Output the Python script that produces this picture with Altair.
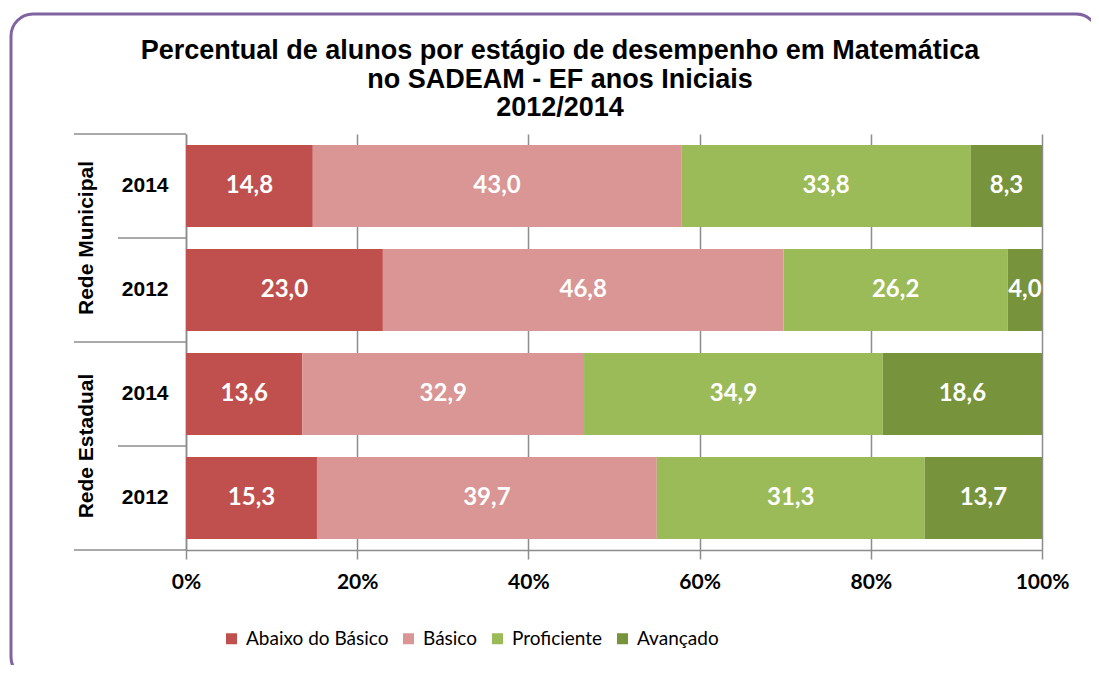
import altair as alt
import pandas as pd

title_lines = ["Percentual de alunos por estágio de desempenho em Matemática",
               "no SADEAM - EF anos Iniciais", "2012/2014"]
networks = ["Rede Municipal", "Rede Municipal", "Rede Estadual", "Rede Estadual"]
years = ["2014", "2012", "2014", "2012"]
levels = ["Abaixo do Básico", "Básico", "Proficiente", "Avançado"]
abaixo = [14.8, 23.0, 13.6, 15.3]
basico = [43.0, 46.8, 32.9, 39.7]
proficiente = [33.8, 26.2, 34.9, 31.3]
avancado = [8.3, 4.0, 18.6, 13.7]
colors = ["#C0504D", "#D99694", "#9BBB59", "#77933C"]
x_ticks = [0, 0.2, 0.4, 0.6, 0.8, 1.0]

keys = [n + "|" + y for n, y in zip(networks, years)]
series = [abaixo, basico, proficiente, avancado]
rows = []
for i, k in enumerate(keys):
    for j, lvl in enumerate(levels):
        rows.append({"key": k, "level": lvl, "order": j, "value": series[j][i]})
df = pd.DataFrame(rows)

grid_color = "#8C8C8C"
yscale = alt.Scale(domain=keys, paddingInner=0, paddingOuter=0)

base = alt.Chart(df).transform_stack(
    stack="value", groupby=["key"], as_=["x0", "x1"], offset="normalize",
    sort=[alt.SortField(field="order", order="ascending")]
).transform_calculate(
    mid="(datum.x0 + datum.x1) / 2",
    lbl="replace(format(datum.value, '.1f'), '.', ',')"
)

bars = base.mark_bar(height={"band": 0.79}).encode(
    x=alt.X("x0:Q", scale=alt.Scale(domain=[0, 1], nice=False),
            axis=alt.Axis(values=x_ticks, format="%", grid=True, labelFlush=False),
            title=None),
    x2="x1:Q",
    y=alt.Y("key:N", scale=yscale, sort=keys,
            axis=alt.Axis(labelExpr="split(datum.value, '|')[1]", ticks=False, tickSize=0),
            title=None),
    color=alt.Color("level:N", scale=alt.Scale(domain=levels, range=colors),
                    legend=alt.Legend(orient="none", legendX=36, legendY=495,
                                      direction="horizontal", symbolType="square",
                                      symbolSize=121, symbolStrokeWidth=0,
                                      labelFont="Lato", labelFontSize=19, labelColor="black",
                                      columnPadding=10, labelOffset=5, padding=0, title=None)),
)

labels = base.mark_text(color="white", font="Lato", fontWeight="bold", fontSize=24).encode(
    x="mid:Q",
    y=alt.Y("key:N", scale=yscale, sort=keys),
    text="lbl:N",
)

sep_long = alt.Chart(pd.DataFrame({"key": [keys[0], keys[2]]})).mark_rule(
    color=grid_color, strokeWidth=1.5).encode(
    y=alt.Y("key:N", scale=yscale, sort=keys, bandPosition=0),
    x=alt.value(-112), x2=alt.value(0))
sep_end = alt.Chart(pd.DataFrame({"key": [keys[3]]})).mark_rule(
    color=grid_color, strokeWidth=1.5).encode(
    y=alt.Y("key:N", scale=yscale, sort=keys, bandPosition=1),
    x=alt.value(-112), x2=alt.value(0))
sep_short = alt.Chart(pd.DataFrame({"key": [keys[1], keys[3]]})).mark_rule(
    color=grid_color, strokeWidth=1.5).encode(
    y=alt.Y("key:N", scale=yscale, sort=keys, bandPosition=0),
    x=alt.value(-68), x2=alt.value(0))

group_df = pd.DataFrame({"network": [networks[0], networks[2]], "key": [keys[0], keys[2]]})
group_labels = alt.Chart(group_df).mark_text(
    angle=270, font="Liberation Sans", fontWeight="bold", fontSize=21, color="black",
    align="center", baseline="middle").encode(
    y=alt.Y("key:N", scale=yscale, sort=keys, bandPosition=1),
    x=alt.value(-99),
    text="network:N")

title = alt.Chart(pd.DataFrame({"t": ["\n".join(title_lines)]})).mark_text(
    font="Liberation Sans", fontWeight="bold", fontSize=27, color="black",
    align="center", baseline="alphabetic", lineBreak="\n", lineHeight=28.5).encode(
    x=alt.value(374), y=alt.value(-75), text="t:N")

frame = alt.Chart(pd.DataFrame({"f": [0]})).mark_rect(
    filled=False, stroke="#8064A2", strokeWidth=3, cornerRadius=22).encode(
    x=alt.value(-175), x2=alt.value(912), y=alt.value(-120), y2=alt.value(545))

chart = alt.layer(frame, title, bars, labels, sep_long, sep_short, sep_end, group_labels).properties(
    width=856, height=416,
    padding={"left": 178, "top": 126, "right": 49, "bottom": 115},
    autosize=alt.AutoSizeParams(type="none"),
).configure_view(strokeWidth=0).configure_axisY(
    domainColor=grid_color, domainWidth=1.5, labelFont="Liberation Sans", labelFontSize=21,
    labelFontWeight="bold", labelColor="black", labelPadding=18
).configure_axisX(
    domainColor=grid_color, domainWidth=1.5, tickColor=grid_color, tickWidth=1.5, tickSize=9,
    gridColor=grid_color, gridWidth=1.5,
    labelFont="Lato", labelFontSize=21, labelFontWeight="bold", labelColor="black",
    labelPadding=12
)

chart.save("out.html", embed_options={"renderer": "svg", "actions": False})
